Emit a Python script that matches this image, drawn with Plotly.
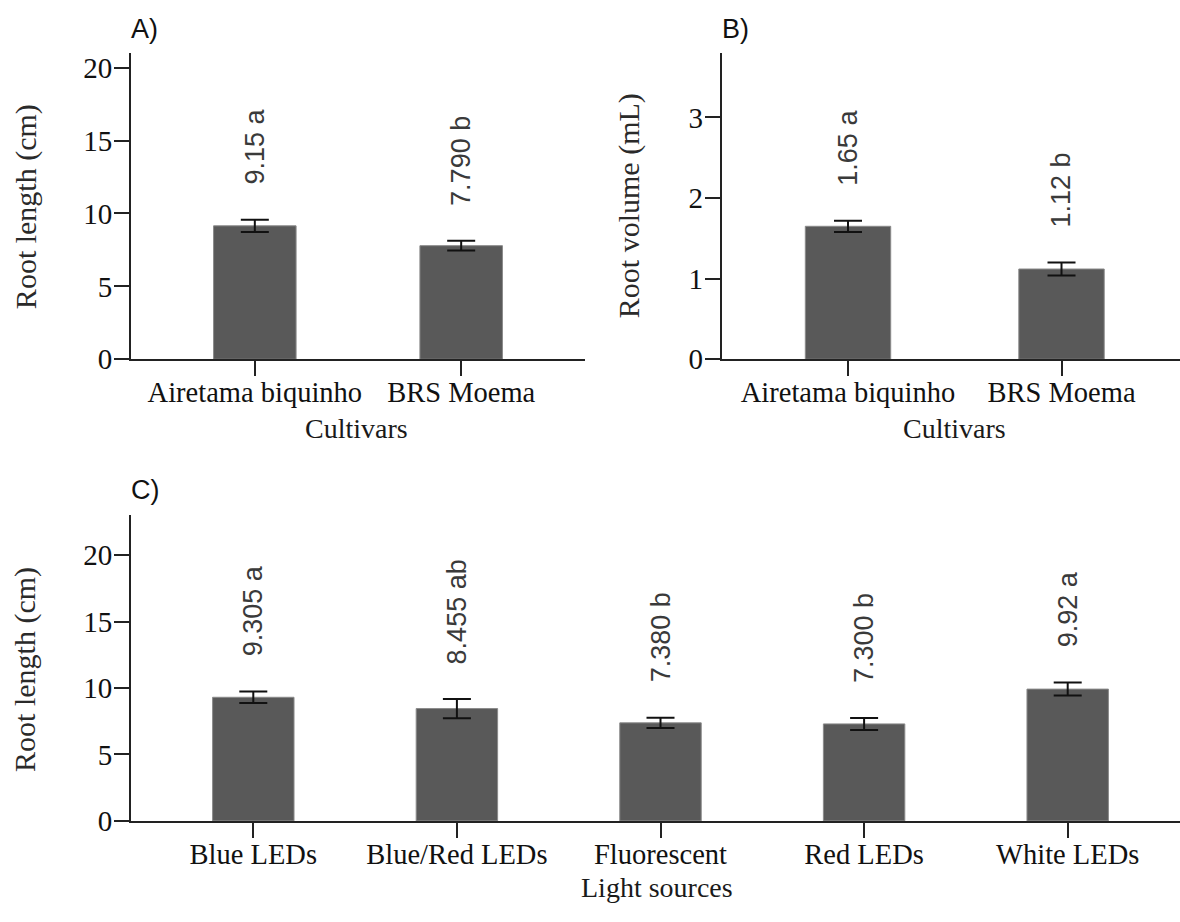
import plotly.graph_objects as go

# ---------------- data ----------------
cultivars = ["Airetama biquinho", "BRS Moema"]
root_length_cult = [9.15, 7.79]
root_length_cult_err = [0.42, 0.34]
root_length_cult_labels = ["9.15 a", "7.790 b"]

root_volume_cult = [1.65, 1.12]
root_volume_cult_err = [0.07, 0.08]
root_volume_cult_labels = ["1.65 a", "1.12 b"]

light_sources = ["Blue LEDs", "Blue/Red LEDs", "Fluorescent", "Red LEDs", "White LEDs"]
root_length_light = [9.305, 8.455, 7.380, 7.300, 9.92]
root_length_light_err = [0.43, 0.72, 0.38, 0.45, 0.49]
root_length_light_labels = ["9.305 a", "8.455 ab", "7.380 b", "7.300 b", "9.92 a"]

yticks_len = [0, 5, 10, 15, 20]
yticks_vol = [0, 1, 2, 3]

# ---------------- style ----------------
W, H = 1180, 922
BAR = "#595959"
AX = "#222222"
SERIF = "Liberation Serif, Times New Roman, serif"
SANS = "Liberation Sans, Arial, sans-serif"
XTICKFONT = dict(family=SERIF, size=28.5, color="#111111")
YTICKFONT = dict(family=SERIF, size=29, color="#111111")


def px_x(p):
    return p / W


def px_y(p):
    return 1 - p / H


fig = go.Figure()

panels = [
    ("x", "y", cultivars, root_length_cult, root_length_cult_err, root_length_cult_labels),
    ("x2", "y2", cultivars, root_volume_cult, root_volume_cult_err, root_volume_cult_labels),
    ("x3", "y3", light_sources, root_length_light, root_length_light_err, root_length_light_labels),
]

for xa, ya, cats, vals, errs, labs in panels:
    fig.add_trace(go.Bar(
        x=cats, y=vals, xaxis=xa, yaxis=ya, width=0.4,
        marker=dict(color=BAR, line=dict(color="#8a8a8a", width=1)),
        error_y=dict(type="data", array=errs, visible=True, color="#111111",
                     thickness=2, width=14),
        showlegend=False, hoverinfo="skip",
    ))
    for c, v, e, t in zip(cats, vals, errs, labs):
        fig.add_annotation(
            x=c, y=v + e, xref=xa, yref=ya, text=t, showarrow=False,
            textangle=-90, xanchor="center", yanchor="bottom", yshift=33,
            font=dict(family=SANS, size=27, color="#3a3a3a"),
        )

line_common = dict(
    showline=True, linecolor=AX, linewidth=2, ticks="outside", ticklen=15,
    tickwidth=2, tickcolor=AX, showgrid=False, zeroline=False, fixedrange=True,
)
xcommon = dict(type="category", tickfont=XTICKFONT, ticklabelstandoff=-8, **line_common)
ycommon = dict(tickfont=YTICKFONT, ticklabelstandoff=-4, **line_common)

fig.update_layout(
    width=W, height=H, margin=dict(l=0, r=0, t=0, b=0),
    paper_bgcolor="white", plot_bgcolor="white",
    xaxis=dict(domain=[px_x(131), px_x(585)], range=[-0.6, 1.6], anchor="y", **xcommon),
    yaxis=dict(domain=[px_y(365), px_y(53)], range=[0, 21], anchor="x",
               tickvals=yticks_len, **ycommon),
    xaxis2=dict(domain=[px_x(721.7), 1.0], range=[-0.5916, 1.555], anchor="y2", **xcommon),
    yaxis2=dict(domain=[px_y(365), px_y(53)], range=[0, 3.8], anchor="x2",
                tickvals=yticks_vol, **ycommon),
    xaxis3=dict(domain=[px_x(131), 1.0], range=[-0.6007, 4.5516], anchor="y3", **xcommon),
    yaxis3=dict(domain=[px_y(835.3), px_y(524)], range=[0, 23], anchor="x3",
                tickvals=yticks_len, **ycommon),
)

XTITLEFONT = dict(family=SERIF, size=28, color="#1a1a1a")
YTITLEFONT = dict(family=SERIF, size=30, color="#2a2a2a")
# axis titles
titles = [
    ("Cultivars", px_x(356), px_y(436), 0, XTITLEFONT),
    ("Cultivars", px_x(954), px_y(436), 0, XTITLEFONT),
    ("Light sources", px_x(657), px_y(903), 0, XTITLEFONT),
    ("Root length (cm)", px_x(26), px_y(210), -90, YTITLEFONT),
    ("Root volume (mL)", px_x(629), px_y(209), -90, YTITLEFONT),
    ("Root length (cm)", px_x(25), px_y(681.5), -90, YTITLEFONT),
]
for t, x, y, ang, f in titles:
    fig.add_annotation(text=t, x=x, y=y, xref="paper", yref="paper",
                       showarrow=False, textangle=ang, xanchor="center",
                       yanchor="middle", font=f)

# panel letters
for t, x, y in [("A)", 129, 28.5), ("B)", 720.5, 28.5), ("C)", 129, 498.5)]:
    fig.add_annotation(text=t, x=px_x(x), y=px_y(y), xref="paper", yref="paper",
                       showarrow=False, xanchor="left", yanchor="middle",
                       font=dict(family=SANS, size=27, color="#111111"))

fig.write_html("out.html", config={"displayModeBar": False})
